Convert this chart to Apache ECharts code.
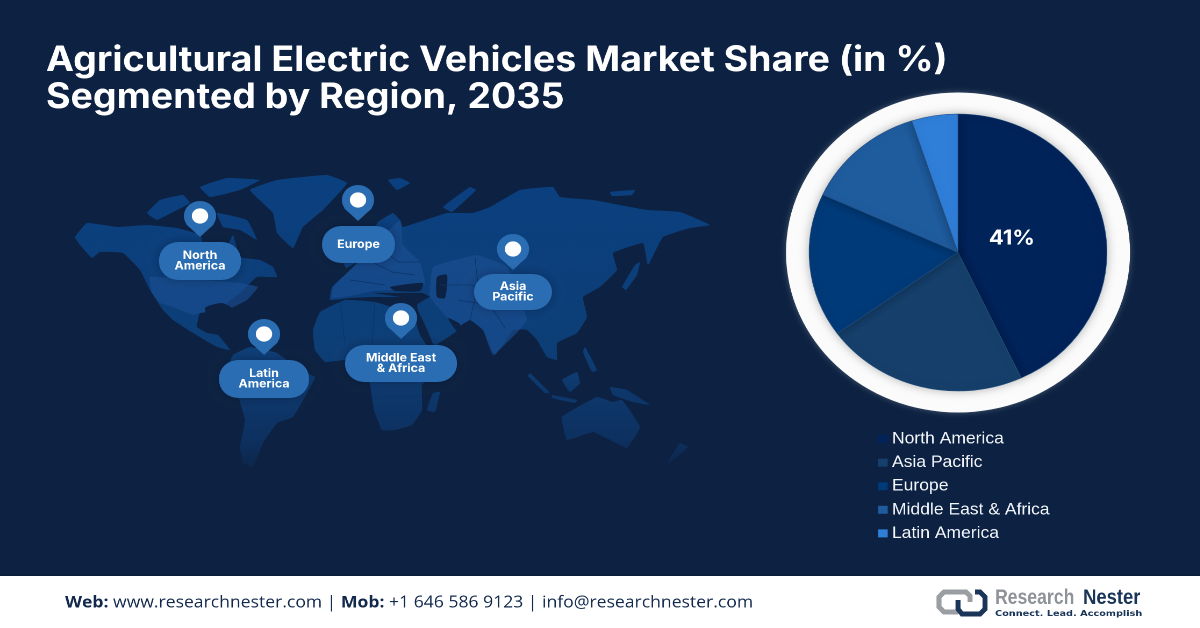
<!DOCTYPE html>
<html><head><meta charset="utf-8">
<style>html,body{margin:0;padding:0;width:1200px;height:628px;overflow:hidden;background:#0d2242}
#c{width:1116.28px;height:628px;transform:scaleX(1.075);transform-origin:0 0}</style>
<script src="https://cdn.jsdelivr.net/npm/echarts@6/dist/echarts.min.js"></script></head>
<body><div id="c"></div>
<script>
const S = 1.075; // the reference picture is stretched horizontally
const titleText = 'Agricultural Electric Vehicles Market Share (in %)\nSegmented by Region, 2035';
const regions = ['North America','Asia Pacific','Europe','Middle East & Africa','Latin America'];
const shares = [41,21,16,12.5,4.8];
const sliceColors = ['#00235a','#163f6b','#003a78','#1f5c9e','#2f7ed8'];
const pinLabels = ['North\nAmerica','Europe','Latin\nAmerica','Middle East\n& Africa','Asia\nPacific'];
const pinBoxes = [[200,216,159,241,242,280],[358,200,322,395,226,263],[264,334,219,309,360,398],[401,318,345,457,345,382],[513,249,474,552,274,310]];
const landMain = [
 [[75,237],[87,223],[118,227],[147,225],[177,228],[200,235],[205,250],[222,258],[228,245],[233,235],[240,257],[260,260],[273,267],[277,277],[257,277],[240,293],[227,303],[230,317],[223,310],[200,313],[197,327],[207,333],[218,335],[230,350],[217,347],[193,333],[173,320],[163,310],[150,290],[140,270],[123,253],[100,252],[92,258],[80,245]],
 [[250,190],[277,180],[327,175],[347,183],[323,210],[303,227],[293,248],[277,233],[273,213]],
 [[147,213],[160,200],[183,195],[190,203],[173,212],[157,220]],
 [[200,187],[227,178],[260,180],[240,190],[210,197]],
 [[217,213],[247,220],[257,240],[240,230],[223,227]],
 [[233,355],[250,347],[277,353],[300,370],[315,377],[307,393],[293,417],[277,423],[263,443],[253,467],[243,463],[240,447],[245,420],[237,393],[227,370]],
 [[313,330],[320,312],[345,300],[375,302],[395,308],[412,310],[420,335],[432,352],[445,352],[432,375],[422,385],[422,410],[412,425],[395,430],[382,430],[374,410],[370,385],[365,365],[345,360],[325,362],[315,350]],
 [[417,305],[430,297],[440,300],[455,320],[458,330],[435,345],[425,335]],
 [[433,393],[440,392],[435,412],[427,410]],
 [[403,227],[447,213],[473,213],[490,207],[520,190],[553,187],[560,197],[593,200],[647,210],[680,212],[710,225],[690,228],[663,237],[648,265],[643,243],[613,253],[617,270],[600,287],[583,297],[587,317],[577,333],[557,343],[557,360],[547,357],[537,340],[527,330],[513,330],[495,355],[483,330],[470,320],[457,327],[430,297],[423,293],[393,293],[373,293],[400,297],[372,297],[350,298],[330,300],[332,287],[347,273],[373,247],[377,223],[393,213],[400,220]],
 [[530,373],[550,393],[545,393],[528,376]],
 [[552,395],[577,400],[575,403],[552,398]],
 [[562,380],[577,372],[580,383],[570,392]],
 [[585,347],[597,370],[592,372],[583,352]],
 [[610,387],[627,390],[650,405],[633,402],[613,395]],
 [[635,265],[640,262],[637,275],[630,285],[626,290],[622,287]],
 [[562,417],[597,397],[613,402],[622,400],[640,427],[627,448],[610,440],[593,432],[567,440]],
 [[667,465],[688,447],[680,443],[670,458]],
 [[388,180],[400,178],[410,183],[397,190]],
 [[342,258],[352,245],[356,262],[346,268]],
 [[443,207],[470,187],[476,190],[452,212]],
 [[610,192],[635,190],[632,195],[612,196]]
];
const landLight = [
 [[150,277],[240,283],[258,287],[247,300],[227,310],[200,313],[193,315],[173,307],[160,303],[152,293]],
 [[373,247],[400,220],[403,245],[420,262],[425,285],[393,290],[373,291],[350,296],[332,298],[333,287],[347,273]],
 [[433,267],[477,255],[507,267],[527,320],[493,355],[483,330],[470,320],[457,327],[430,297]]
];
const seas = [
 [[390,287],[423,283],[420,291],[395,291]],
 [[437,277],[447,275],[445,298],[437,297]],
 [[234,310],[222,303],[205,308],[212,325],[228,328]],
 [[412,311],[417,309],[434,347],[428,348]],
 [[448,318],[460,324],[457,331]]
];
const borders = [
 [[383,250],[398,262],[420,262]],[[372,262],[392,272],[415,275]],[[350,280],[385,285]],
 [[440,285],[470,285],[490,290]],[[458,300],[490,305],[505,328]],[[475,258],[478,285],[470,320]],
 [[340,300],[345,345]],[[375,302],[372,345]],[[385,395],[422,395]]
];
const footerParts = ['Web:',' www.researchnester.com ','|',' Mob:',' +1 646 586 9123 ','|',' info@researchnester.com'];

const X = x => x / S;
const landFill = new echarts.graphic.LinearGradient(0,175,0,470,[{offset:0,color:'#0b4080'},{offset:.6,color:'#0d3e76'},{offset:1,color:'#0e2c58'}],true);
const mapChildren = [
  ...landMain.map(p=>({type:'polygon',shape:{points:p,smooth:.1},style:{fill:landFill}})),
  ...landLight.map(p=>({type:'polygon',shape:{points:p,smooth:.1},style:{fill:'#1a4e92',opacity:.65}})),
  ...seas.map(p=>({type:'polygon',shape:{points:p,smooth:.2},style:{fill:'#0d2242'}})),
  ...borders.map(p=>({type:'polyline',shape:{points:p},style:{stroke:'#0e3566',lineWidth:.7,fill:'none'}}))
];
const pinEls = [];
pinBoxes.forEach((b,i)=>{
  const [cx,cy,l,r,t,bt]=b; const x=X(cx), w=X(r)-X(l);
  pinEls.push({type:'polygon',z:6,shape:{points:[[x-13,cy+8],[x,cy+21],[x+13,cy+8]]},style:{fill:'#2a6db2'}});
  pinEls.push({type:'circle',z:6,shape:{cx:x,cy:cy,r:15},style:{fill:'#2a6db2'}});
  pinEls.push({type:'circle',z:7,shape:{cx:x,cy:cy,r:7.6},style:{fill:'#ffffff'}});
  pinEls.push({type:'rect',z:6,shape:{x:X(l),y:t,width:w,height:bt-t,r:18},style:{fill:'#2a6db2',shadowBlur:10,shadowColor:'rgba(5,15,40,.35)'}});
  pinEls.push({type:'text',z:8,x:X((l+r)/2),y:(t+bt)/2,style:{text:pinLabels[i],fill:'#fff',font:'700 11.5px Inter',align:'center',verticalAlign:'middle',lineHeight:10.5}});
});
const W = X(1200);
const chart = echarts.init(document.getElementById('c'),null,{devicePixelRatio:2});
chart.setOption({
  animation:false,
  backgroundColor:'#0d2242',
  title:{text:titleText,left:X(46),top:42,padding:0,textStyle:{color:'#fff',fontFamily:'Inter',fontWeight:700,fontSize:34.9,lineHeight:37}},
  legend:{orient:'vertical',left:X(878),top:430,padding:0,itemWidth:9,itemHeight:8,itemGap:5.6,icon:'rect',data:regions,
    itemStyle:{borderWidth:0,shadowBlur:0},
    textStyle:{color:'#f2f5fa',fontFamily:'Liberation Sans',fontSize:16.3,lineHeight:18,padding:[0,0,0,-1]}},
  tooltip:{show:false},
  series:[{type:'pie',center:[X(958),252.5],radius:[0,138.5],startAngle:90,clockwise:true,z:3,silent:true,
    data:regions.map((n,i)=>({name:n,value:shares[i],itemStyle:{color:sliceColors[i]},
      label:{show:i===0}})),
    itemStyle:{borderColor:'#234f80',borderWidth:.6,shadowBlur:9,shadowColor:'rgba(0,0,0,.28)'},
    label:{position:'inside',color:'#fff',fontFamily:'Inter',fontWeight:700,fontSize:20.5,formatter:p=>p.value+'%'},
    labelLine:{show:false},
    labelLayout:{dx:-20.5,dy:1.5}
  }],
  graphic:{elements:[
    {type:'group',scaleX:1/S,z:1,silent:true,children:mapChildren},
    {type:'rect',z:2,shape:{x:0,y:440,width:X(760),height:40},style:{fill:new echarts.graphic.LinearGradient(0,0,0,1,[{offset:0,color:'rgba(13,34,66,0)'},{offset:1,color:'rgba(13,34,66,.85)'}])}},
    ...pinEls,
    {type:'circle',z:1,shape:{cx:X(958),cy:252.5,r:160},style:{fill:'#fbfbfb',shadowBlur:6,shadowColor:'rgba(255,255,255,.25)'}},
    {type:'rect',z:9,shape:{x:0,y:574,width:W,height:2},style:{fill:'#0a1d3a'}},
    {type:'rect',z:9,shape:{x:0,y:576,width:W,height:52},style:{fill:'#ffffff'}},
    {type:'text',z:10,x:X(65),y:603,style:{
      text:`{b|${footerParts[0]}}{n|${footerParts[1]}}{n|${footerParts[2]}}{b|${footerParts[3]}}{n|${footerParts[4]}}{n|${footerParts[5]}}{n|${footerParts[6]}}`,
      verticalAlign:'middle',rich:{b:{font:'700 16.35px "Open Sans"',fill:'#12294d'},n:{font:'400 16.35px "Open Sans"',fill:'#12294d'}}}},
    {type:'group',z:10,scaleX:1/S,children:[
      {type:'polyline',z:10,shape:{points:[[958,612],[944,612],[939,607],[939,597],[944,592],[966,592],[970,596],[970,602]]},style:{fill:'none',stroke:'#9a9da1',lineWidth:5}},
      {type:'polyline',z:10,shape:{points:[[958,600],[958,609],[962,614],[980,614],[985,609],[985,597],[980,592],[975,592]]},style:{fill:'none',stroke:'#1a3558',lineWidth:5}}
    ]},
    {type:'text',z:10,x:X(995),y:598,scaleX:.78,style:{text:'Research',verticalAlign:'middle',fill:'#8f9399',font:'700 21px "Liberation Sans"'}},
    {type:'text',z:10,x:X(1083),y:598,scaleX:.816,style:{text:'Nester',verticalAlign:'middle',fill:'#1a3558',font:'700 21px "Liberation Sans"'}},
    {type:'text',z:10,x:X(995),y:614,scaleX:1.13,style:{text:'Connect. Lead. Accomplish',verticalAlign:'middle',fill:'#1a3558',font:'700 8px "DejaVu Sans"'}}
  ]}
});
</script></body></html>
